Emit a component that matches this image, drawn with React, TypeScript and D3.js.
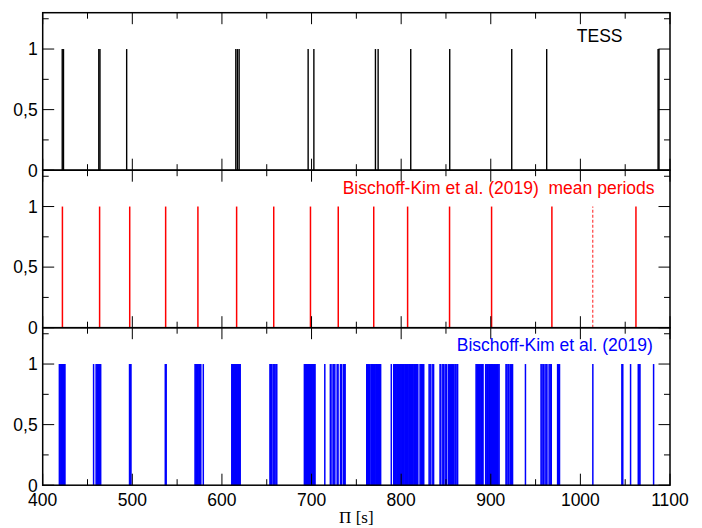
import React from "react";
import * as d3 from "d3";

// TESS observed periods [s]
const tessPeriods = [
  421.8, 423.2, 462.6, 463.9, 493.7, 615.5, 617.3, 619.2, 696.2, 702.6,
  771.3, 774.3, 810.7, 854.2, 923.4, 962.4, 1086.7, 1087.7,
];

// Bischoff-Kim et al. (2019) mean periods [s]
const meanPeriods = [
  422.0, 463.5, 497.1, 537.2, 573.2, 616.4, 657.8, 698.8, 729.8, 769.4,
  807.2, 854.0, 900.9, 968.2, 1062.0,
];
const meanPeriodsDashed = [1013.8];

// Bischoff-Kim et al. (2019) periods [s]
const bkPeriods = [
  418.6, 419.4, 420.3, 421.0, 421.8, 422.7, 423.5, 424.2, 424.8,
  456.8,
  459.6, 460.5, 461.3, 462.2, 463.0, 463.8, 464.7,
  496.9, 497.7, 498.5,
  536.8, 537.8,
  570.0, 570.9, 571.7, 572.6, 573.4, 574.3, 575.1, 575.9, 576.4,
  579.2,
  611.0, 611.9, 612.7, 613.6, 614.4, 615.3, 616.1, 617.0, 617.8, 618.7, 619.5, 620.4,
  653.6, 654.4, 655.6, 657.2, 658.3, 659.4, 661.2,
  692.0, 692.9, 693.7, 694.6, 695.4, 696.3, 697.1, 698.0, 698.8, 699.7, 700.5, 701.4, 702.2, 703.1, 703.9,
  714.8,
  721.0, 722.8, 724.8, 726.0, 728.6, 729.6, 732.3, 733.5, 735.6, 736.5, 737.5,
  761.6, 762.6, 763.6, 764.4,
  766.2, 767.1, 768.0, 768.9, 770.0, 771.0, 772.0, 772.8, 773.8, 774.6, 775.6, 776.4, 777.1,
  789.0,
  791.7, 792.6, 793.4, 794.4, 795.2, 796.2, 797.0, 798.0, 798.9, 799.7, 800.7, 801.5, 802.5,
  803.3, 804.3, 805.1, 806.1, 807.0, 807.8, 808.8, 809.6, 810.6, 811.4, 812.4, 813.2, 814.2,
  815.1, 816.0, 816.8, 817.8, 818.6,
  821.1, 822.0, 823.0, 823.9, 825.2,
  831.2, 832.4, 834.6, 836.2,
  843.4, 844.3, 846.5, 847.4, 849.1, 850.4, 852.6, 853.7,
  855.0, 856.2, 857.3, 858.4, 860.0, 861.0, 862.4, 863.0,
  883.6, 884.5, 885.4, 886.3, 887.2, 888.1, 889.0, 889.9, 890.8, 891.3,
  894.3, 895.6, 896.4, 897.8, 898.7, 899.6, 900.5, 901.3, 902.0, 903.1, 904.2, 905.0,
  906.4, 907.3, 908.2, 909.3,
  917.0, 918.0, 919.4, 920.3, 922.0, 923.2, 924.3,
  938.7,
  956.1, 957.2, 958.6, 960.5, 961.8, 962.7, 965.1, 966.3, 967.5,
  974.6, 975.6, 976.7,
  1013.9,
  1046.3, 1047.3,
  1056.0,
  1064.6, 1065.6, 1066.5,
  1081.7,
];

const xMajorTicks = [400, 500, 600, 700, 800, 900, 1000, 1100];
const xMinorTicks = [450, 550, 650, 750, 850, 950, 1050];
const yMajorTicks = [0, 0.5, 1];
const yMajorLabels = ["0", "0,5", "1"];
const yMinorTicks = [0.25, 0.75, 1.25];
const panelLabels = [
  "TESS",
  "Bischoff-Kim et al. (2019)  mean periods",
  "Bischoff-Kim et al. (2019)",
];
const xAxisTitle = "\u03A0 [s]";

export default function App() {
  const W = 702;
  const H = 528;
  const left = 42.7;
  const right = 670;
  const top = 12.7;
  const panelH = 157.5;
  const font = "'Liberation Sans', Arial, Helvetica, sans-serif";
  const fs = 17.5;

  const x = d3.scaleLinear().domain([400, 1100]).range([left, right]);
  const yFor = (i: number) =>
    d3
      .scaleLinear()
      .domain([0, 1.3])
      .range([top + (i + 1) * panelH, top + i * panelH]);

  const panels = [
    { marks: tessPeriods, color: "#000000", width: 1.4, dashed: [] as number[] },
    { marks: meanPeriods, color: "#ff0000", width: 1.5, dashed: meanPeriodsDashed },
    { marks: bkPeriods, color: "#0000ff", width: 1.5, dashed: [] as number[] },
  ];
  const labelColors = ["#000000", "#ff0000", "#0000ff"];
  const labelPos = [
    { x: 1047, y: 1.056 },
    { x: 1082.8, y: 1.105 },
    { x: 1080.9, y: 1.108 },
  ];

  const majorLen = 11.5;
  const minorLen = 6;

  return (
    <svg
      width={W}
      height={H}
      style={{ position: "absolute", left: 0, top: 0, background: "#fff" }}
    >
      <rect x={0} y={0} width={W} height={H} fill="#fff" />
      {panels.map((p, i) => {
        const y = yFor(i);
        const y0 = y(0);
        const yt = y(1.3);
        return (
          <g key={i}>
            {p.marks.map((v, j) => (
              <line
                key={j}
                x1={x(v)}
                x2={x(v)}
                y1={y(0)}
                y2={y(1)}
                stroke={p.color}
                strokeWidth={p.width}
              />
            ))}
            {p.dashed.map((v, j) => (
              <line
                key={"d" + j}
                x1={x(v)}
                x2={x(v)}
                y1={y(0)}
                y2={y(1)}
                stroke={p.color}
                strokeWidth={1.2}
                strokeDasharray="3,2"
                opacity={0.75}
              />
            ))}
            {xMajorTicks.map((t) => (
              <g key={"xm" + t}>
                <line x1={x(t)} x2={x(t)} y1={y0} y2={y0 - majorLen} stroke="#000" strokeWidth={1} />
                <line x1={x(t)} x2={x(t)} y1={yt} y2={yt + majorLen} stroke="#000" strokeWidth={1} />
              </g>
            ))}
            {xMinorTicks.map((t) => (
              <g key={"xn" + t}>
                <line x1={x(t)} x2={x(t)} y1={y0} y2={y0 - minorLen} stroke="#000" strokeWidth={1} />
                <line x1={x(t)} x2={x(t)} y1={yt} y2={yt + minorLen} stroke="#000" strokeWidth={1} />
              </g>
            ))}
            {yMajorTicks.map((t) => (
              <g key={"ym" + t}>
                <line x1={left} x2={left + majorLen} y1={y(t)} y2={y(t)} stroke="#000" strokeWidth={1} />
                <line x1={right} x2={right - majorLen} y1={y(t)} y2={y(t)} stroke="#000" strokeWidth={1} />
              </g>
            ))}
            {yMinorTicks.map((t) => (
              <g key={"yn" + t}>
                <line x1={left} x2={left + minorLen} y1={y(t)} y2={y(t)} stroke="#000" strokeWidth={1} />
                <line x1={right} x2={right - minorLen} y1={y(t)} y2={y(t)} stroke="#000" strokeWidth={1} />
              </g>
            ))}
            {yMajorTicks.map((t, k) => (
              <text
                key={"yl" + t}
                x={left - 5}
                y={y(t)}
                dy="0.36em"
                textAnchor="end"
                fontFamily={font}
                fontSize={fs}
                fill="#000"
              >
                {yMajorLabels[k]}
              </text>
            ))}
            <rect
              x={left}
              y={yt}
              width={right - left}
              height={y0 - yt}
              fill="none"
              stroke="#000"
              strokeWidth={1.5}
            />
            <text
              x={x(labelPos[i].x)}
              y={y(labelPos[i].y)}
              textAnchor="end"
              fontFamily={font}
              fontSize={fs}
              fill={labelColors[i]}
              style={{ whiteSpace: "pre" }}
            >
              {panelLabels[i]}
            </text>
          </g>
        );
      })}
      {xMajorTicks.map((t) => (
        <text
          key={"xl" + t}
          x={x(t)}
          y={505.7}
          textAnchor="middle"
          fontFamily={font}
          fontSize={fs}
          fill="#000"
        >
          {t}
        </text>
      ))}
      <text
        x={(left + right) / 2}
        y={523}
        textAnchor="middle"
        fontFamily="'Liberation Serif', 'Times New Roman', serif"
        fontSize={17}
        fill="#000"
      >
        {xAxisTitle}
      </text>
    </svg>
  );
}
